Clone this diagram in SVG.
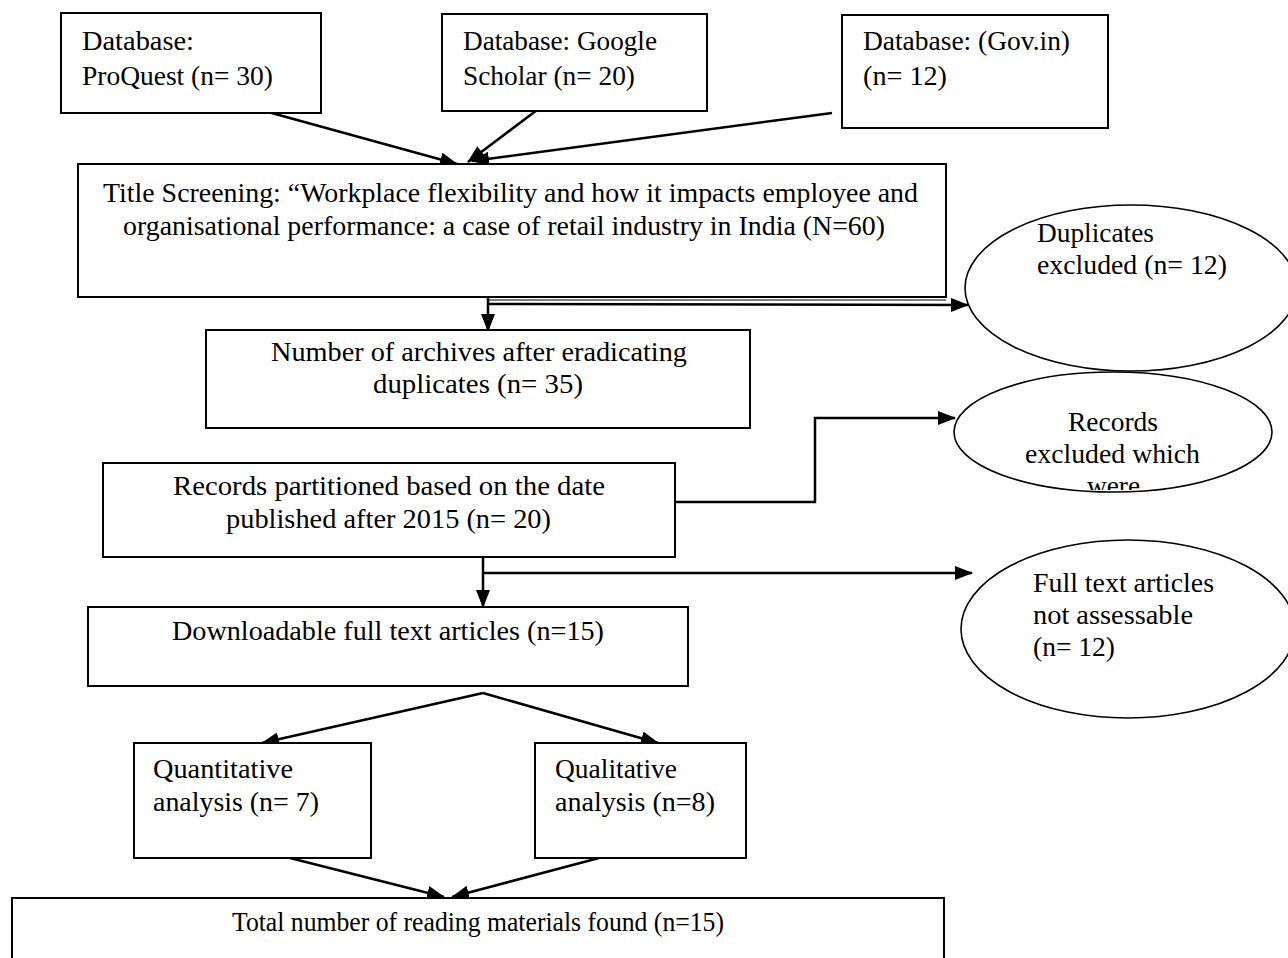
<svg xmlns="http://www.w3.org/2000/svg" width="1288" height="958" viewBox="0 0 1288 958">
<defs>
<style>
.box{fill:#fff;stroke:#000;stroke-width:2}
.ell{fill:#fff;stroke:#000;stroke-width:1.6}
.t{font-family:"Liberation Serif","Times New Roman",serif;font-size:28px;fill:#000}
.c{stroke:#000;stroke-width:2.5;fill:none}
</style>
<marker id="ah" viewBox="0 0 18 14" refX="17" refY="7" markerWidth="18" markerHeight="14" markerUnits="userSpaceOnUse" orient="auto">
<path d="M0,0 L18,7 L0,14 Z" fill="#000"/>
</marker>
<clipPath id="clipRec"><rect x="950" y="370" width="330" height="120"/></clipPath>
</defs>
<rect width="1288" height="958" fill="#fff"/>

<g id="connectors">
<line class="c" x1="268" y1="112" x2="457" y2="164" marker-end="url(#ah)"/>
<line class="c" x1="549" y1="101" x2="468" y2="162" marker-end="url(#ah)"/>
<line class="c" x1="832" y1="113" x2="472" y2="161" marker-end="url(#ah)"/>
<line class="c" x1="488" y1="292" x2="488" y2="331" marker-end="url(#ah)"/>
<line stroke="#000" stroke-width="1.2" x1="488" y1="300" x2="946" y2="300"/>
<line class="c" x1="488" y1="304" x2="968" y2="305" marker-end="url(#ah)"/>
<polyline class="c" points="675,502 815,502 815,418 955,418" marker-end="url(#ah)"/>
<line class="c" x1="483" y1="545" x2="483" y2="607" marker-end="url(#ah)"/>
<line class="c" x1="483" y1="573" x2="972" y2="573" marker-end="url(#ah)"/>
<line class="c" x1="483" y1="693" x2="262" y2="743" marker-end="url(#ah)"/>
<line class="c" x1="483" y1="693" x2="658" y2="743" marker-end="url(#ah)"/>
<line class="c" x1="290" y1="858" x2="444" y2="897" marker-end="url(#ah)"/>
<line class="c" x1="599" y1="858" x2="452" y2="897" marker-end="url(#ah)"/>
</g>

<g id="proquest">
<rect class="box" x="61" y="13" width="260" height="100"/>
<text class="t" x="82" y="50" textLength="112" lengthAdjust="spacingAndGlyphs">Database:</text>
<text class="t" x="82" y="85" textLength="191" lengthAdjust="spacingAndGlyphs">ProQuest (n= 30)</text>
</g>

<g id="scholar">
<rect class="box" x="442" y="14" width="265" height="97"/>
<text class="t" x="463" y="50" textLength="194" lengthAdjust="spacingAndGlyphs">Database: Google</text>
<text class="t" x="463" y="85" textLength="172" lengthAdjust="spacingAndGlyphs">Scholar (n= 20)</text>
</g>

<g id="govin">
<rect class="box" x="842" y="15" width="266" height="113"/>
<text class="t" x="863" y="50" textLength="207" lengthAdjust="spacingAndGlyphs">Database: (Gov.in)</text>
<text class="t" x="863" y="85" textLength="84" lengthAdjust="spacingAndGlyphs">(n= 12)</text>
</g>

<g id="title">
<rect class="box" x="78" y="164" width="868" height="133"/>
<text class="t" x="103" y="202" textLength="815" lengthAdjust="spacingAndGlyphs">Title Screening: “Workplace flexibility and how it impacts employee and</text>
<text class="t" x="123" y="235" textLength="762" lengthAdjust="spacingAndGlyphs">organisational performance: a case of retail industry in India (N=60)</text>
</g>

<g id="duplicates">
<ellipse class="ell" cx="1131" cy="288" rx="166" ry="83"/>
<text class="t" x="1037" y="242" textLength="117" lengthAdjust="spacingAndGlyphs">Duplicates</text>
<text class="t" x="1037" y="274" textLength="190" lengthAdjust="spacingAndGlyphs">excluded (n= 12)</text>
</g>

<g id="archives">
<rect class="box" x="206" y="330" width="544" height="98"/>
<text class="t" x="271" y="361" textLength="416" lengthAdjust="spacingAndGlyphs">Number of archives after eradicating</text>
<text class="t" x="373" y="393" textLength="210" lengthAdjust="spacingAndGlyphs">duplicates (n= 35)</text>
</g>

<g id="records-excluded">
<ellipse class="ell" cx="1113" cy="432" rx="159" ry="60"/>
<g clip-path="url(#clipRec)">
<text class="t" x="1068" y="431" textLength="90" lengthAdjust="spacingAndGlyphs">Records</text>
<text class="t" x="1025" y="463" textLength="175" lengthAdjust="spacingAndGlyphs">excluded which</text>
<text class="t" x="1087" y="495" textLength="53" lengthAdjust="spacingAndGlyphs">were</text>
</g>
</g>

<g id="partitioned">
<rect class="box" x="103" y="463" width="572" height="94"/>
<text class="t" x="173" y="495" textLength="432" lengthAdjust="spacingAndGlyphs">Records partitioned based on the date</text>
<text class="t" x="226" y="528" textLength="325" lengthAdjust="spacingAndGlyphs">published after 2015 (n= 20)</text>
</g>

<g id="fulltext-excluded">
<ellipse class="ell" cx="1128" cy="629" rx="167" ry="89"/>
<text class="t" x="1033" y="592" textLength="181" lengthAdjust="spacingAndGlyphs">Full text articles</text>
<text class="t" x="1033" y="624" textLength="160" lengthAdjust="spacingAndGlyphs">not assessable</text>
<text class="t" x="1033" y="656" textLength="82" lengthAdjust="spacingAndGlyphs">(n= 12)</text>
</g>

<g id="downloadable">
<rect class="box" x="88" y="607" width="600" height="79"/>
<text class="t" x="172" y="640" textLength="432" lengthAdjust="spacingAndGlyphs">Downloadable full text articles (n=15)</text>
</g>

<g id="quantitative">
<rect class="box" x="134" y="743" width="237" height="115"/>
<text class="t" x="153" y="778" textLength="140" lengthAdjust="spacingAndGlyphs">Quantitative</text>
<text class="t" x="153" y="811" textLength="166" lengthAdjust="spacingAndGlyphs">analysis (n= 7)</text>
</g>

<g id="qualitative">
<rect class="box" x="535" y="743" width="211" height="115"/>
<text class="t" x="555" y="778" textLength="122" lengthAdjust="spacingAndGlyphs">Qualitative</text>
<text class="t" x="555" y="811" textLength="160" lengthAdjust="spacingAndGlyphs">analysis (n=8)</text>
</g>

<g id="total">
<rect class="box" x="12" y="898" width="932" height="80"/>
<text class="t" x="232" y="931" textLength="492" lengthAdjust="spacingAndGlyphs">Total number of reading materials found (n=15)</text>
</g>
</svg>
